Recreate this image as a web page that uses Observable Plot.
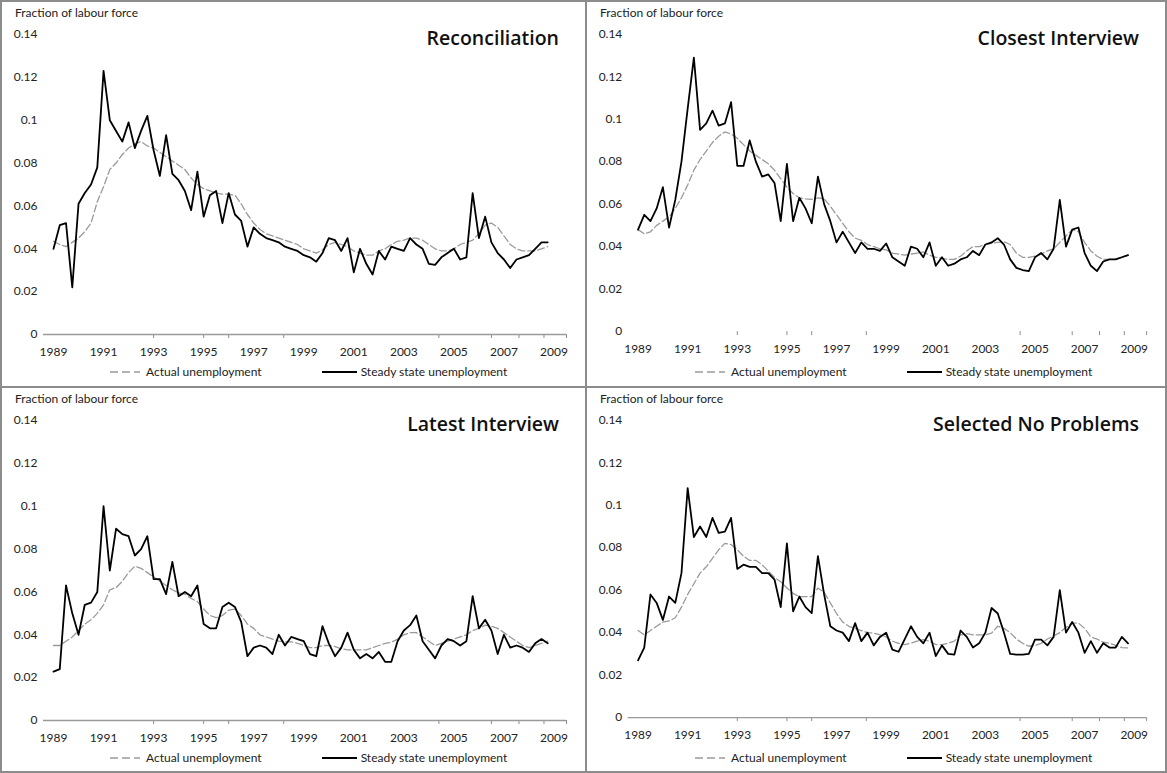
<!DOCTYPE html>
<html><head><meta charset="utf-8">
<script src="https://cdn.jsdelivr.net/npm/d3@7"></script>
<script src="https://cdn.jsdelivr.net/npm/@observablehq/plot@0.6"></script>
<style>
body{margin:0;background:#fff;}
#wrap{position:relative;width:1167px;height:773px;font-family:Lato,"Liberation Sans",sans-serif;color:#222;}
.panel{position:absolute;box-sizing:border-box;border:2px solid #8c8c8c;background:#fff;overflow:hidden}
.panel svg.plot{position:absolute;left:-2px;top:-2px}
.ylab{position:absolute;left:13px;top:3px;font-size:12px;color:#222;white-space:nowrap}
.title{position:absolute;right:26px;top:22px;font:600 19.5px "Open Sans",sans-serif;color:#111;white-space:nowrap}
.legend{position:absolute;left:108px;top:362px;display:flex;align-items:center;font-size:12px;color:#222;white-space:nowrap}
.legend svg{display:block}
</style></head><body><div id="wrap"></div><script>
// ---- data (quarterly, starting 1989 Q1) ----
const startYear = 1989;
const panelTitles = ["Reconciliation", "Closest Interview", "Latest Interview", "Selected No Problems"];
const yLabel = "Fraction of labour force";
const seriesNames = ["Actual unemployment", "Steady state unemployment"];
const yTicks = [0, 0.02, 0.04, 0.06, 0.08, 0.10, 0.12, 0.14];
const yearLabels = [1989, 1991, 1993, 1995, 1997, 1999, 2001, 2003, 2005, 2007, 2009];
const tickYears = [1993, 1995, 1996, 1998.2, 2004.4, 2006.5, 2007.6, 2008.6, 2009.5];

const reconActual = [.0435,.042,.041,.043,.045,.048,.052,.062,.069,.077,.080,.084,.087,.089,.090,.088,.087,.085,.083,.081,
 .079,.077,.073,.070,.068,.067,.066,.0655,.0655,.065,.061,.056,.052,.049,.047,.046,.045,.044,.043,.042,
 .040,.039,.038,.0395,.042,.043,.042,.041,.039,.038,.037,.037,.039,.040,.042,.0435,.044,.045,.045,.044,
 .042,.040,.039,.039,.040,.042,.043,.044,.047,.051,.052,.050,.046,.042,.040,.039,.039,.039,.040,.041];
const reconSteady = [.040,.051,.052,.022,.061,.066,.070,.078,.123,.100,.095,.090,.099,.087,.095,.102,.086,.074,.093,.075,
 .072,.067,.058,.076,.055,.065,.067,.052,.066,.056,.053,.041,.050,.047,.045,.044,.043,.041,.040,.039,
 .037,.036,.034,.038,.045,.044,.039,.045,.029,.040,.033,.028,.039,.035,.041,.040,.039,.045,.042,.040,
 .033,.0325,.036,.038,.040,.035,.036,.066,.045,.055,.043,.038,.035,.031,.035,.036,.037,.040,.043,.043];

const closestActual = [.048,.046,.047,.050,.052,.054,.058,.063,.069,.076,.081,.085,.089,.092,.094,.093,.091,.088,.085,.083,
 .081,.079,.076,.072,.068,.065,.063,.0625,.0623,.063,.0625,.059,.055,.051,.047,.044,.043,.041,.040,.039,
 .0385,.037,.0365,.036,.0365,.037,.0375,.036,.035,.0345,.034,.034,.0355,.038,.040,.040,.041,.0415,.042,.0423,
 .041,.037,.035,.035,.0355,.0365,.038,.039,.042,.045,.048,.047,.042,.038,.0355,.034,.034,.034,.035,.036];
const closestSteady = [.048,.055,.052,.058,.068,.049,.062,.080,.105,.129,.095,.098,.104,.097,.098,.108,.078,.078,.090,.080,
 .073,.074,.070,.052,.079,.052,.063,.058,.051,.073,.060,.052,.042,.047,.042,.037,.042,.039,.039,.038,
 .0415,.035,.033,.031,.040,.039,.035,.042,.031,.035,.031,.032,.034,.035,.038,.036,.041,.042,.044,.041,
 .034,.030,.029,.0285,.035,.037,.034,.039,.062,.040,.048,.049,.037,.031,.0285,.033,.034,.034,.035,.036];

const latestActual = [.035,.035,.037,.039,.042,.045,.047,.050,.054,.061,.062,.065,.069,.072,.071,.069,.067,.065,.063,.061,
 .0595,.059,.057,.0555,.052,.049,.048,.049,.0515,.052,.049,.045,.043,.040,.039,.038,.037,.0367,.0367,.036,
 .035,.034,.034,.035,.035,.0345,.0335,.033,.033,.033,.033,.034,.035,.036,.0365,.038,.040,.041,.041,.039,
 .037,.035,.036,.037,.038,.039,.040,.042,.043,.0445,.044,.043,.041,.039,.037,.035,.034,.035,.036,.037];
const latestSteady = [.0228,.024,.063,.050,.040,.054,.055,.060,.100,.070,.0895,.087,.086,.077,.080,.086,.066,.066,.059,.074,
 .058,.060,.058,.063,.045,.043,.043,.053,.055,.053,.046,.030,.034,.035,.034,.031,.040,.035,.039,.038,
 .037,.031,.030,.044,.036,.030,.034,.041,.033,.029,.031,.029,.032,.0274,.0274,.037,.042,.0445,.049,.037,
 .033,.029,.035,.038,.037,.035,.037,.058,.043,.047,.042,.031,.040,.034,.035,.034,.032,.036,.038,.036];

const selectedActual = [.041,.039,.041,.043,.045,.0455,.047,.052,.058,.063,.068,.071,.075,.079,.082,.0815,.079,.076,.074,.074,
 .072,.069,.066,.064,.061,.0585,.057,.057,.057,.061,.059,.054,.049,.045,.043,.042,.041,.040,.0398,.039,
 .038,.036,.035,.0344,.035,.036,.0367,.036,.0344,.0344,.035,.036,.039,.0395,.039,.039,.039,.0398,.043,.042,
 .040,.037,.035,.0336,.034,.035,.037,.0385,.040,.0425,.0445,.0445,.042,.038,.037,.0355,.035,.034,.033,.0328];
const selectedSteady = [.027,.033,.058,.054,.046,.057,.054,.068,.108,.085,.090,.085,.094,.087,.0875,.094,.070,.072,.071,.071,
 .068,.068,.065,.052,.082,.050,.057,.052,.0492,.076,.058,.043,.041,.040,.036,.0445,.036,.040,.034,.038,
 .040,.032,.031,.037,.043,.038,.035,.040,.029,.034,.030,.0297,.041,.038,.033,.035,.040,.0516,.049,.040,
 .030,.0297,.0297,.030,.0367,.0367,.034,.038,.060,.040,.045,.040,.0305,.036,.0305,.035,.033,.033,.038,.035];

const panelsData = [
  [reconActual, reconSteady, true],
  [closestActual, closestSteady, false],
  [latestActual, latestSteady, true],
  [selectedActual, selectedSteady, true]
];
const boxes = [
  {left:0, top:0, width:587, height:388},
  {left:585, top:0, width:582, height:388},
  {left:0, top:386, width:587, height:387},
  {left:585, top:386, width:582, height:387}
];

const fmtY = d => String(+d.toFixed(2));
const rows = arr => arr.map((v, i) => ({t: startYear + i / 4, v}));

function makePlot(actual, steady, axisLine) {
  return Plot.plot({
    width: 583, height: 362,
    marginLeft: 43, marginRight: 17, marginTop: 34, marginBottom: 28,
    style: {fontFamily: 'Lato, "Liberation Sans", sans-serif', fontSize: "12px", color: "#222", background: "transparent", overflow: "visible"},
    x: {domain: [1988.6, 2009.5], axis: null},
    y: {domain: [0, 0.14], axis: null},
    marks: [
      Plot.axisY(yTicks, {tickSize: 0, tickPadding: 6, tickFormat: fmtY, label: null}),
      Plot.axisX(yearLabels, {tickSize: 0, tickPadding: 13, tickFormat: d => String(d), label: null}),
      Plot.axisX(tickYears, {tickSize: 4, tickFormat: () => "", label: null, stroke: "#8c8c8c"}),
      axisLine ? Plot.ruleY([0], {stroke: "#9a9a9a", strokeWidth: 1.5}) : null,
      Plot.line(rows(actual), {x: "t", y: "v", stroke: "#9a9a9a", strokeWidth: 1.3, strokeDasharray: "7,3"}),
      Plot.line(rows(steady), {x: "t", y: "v", stroke: "#000", strokeWidth: 1.8})
    ]
  });
}

function legendSample(dashed) {
  const w = dashed ? 30 : 35;
  const s = d3.create("svg").attr("width", w).attr("height", 8);
  s.append("line").attr("x1", 0).attr("x2", w).attr("y1", 4).attr("y2", 4)
    .attr("stroke", dashed ? "#9a9a9a" : "#000").attr("stroke-width", dashed ? 1.5 : 2)
    .attr("stroke-dasharray", dashed ? "8,4" : null);
  return s.node();
}

const wrap = document.getElementById("wrap");
panelsData.forEach(([a, s, line], k) => {
  const b = boxes[k];
  const p = document.createElement("div");
  p.className = "panel";
  Object.assign(p.style, {left: b.left + "px", top: b.top + "px", width: b.width + "px", height: b.height + "px"});
  const svg = makePlot(a, s, line);
  svg.classList.add("plot");
  p.appendChild(svg);
  const yl = document.createElement("div"); yl.className = "ylab"; yl.textContent = yLabel; p.appendChild(yl);
  const t = document.createElement("div"); t.className = "title"; t.textContent = panelTitles[k]; p.appendChild(t);
  const lg = document.createElement("div"); lg.className = "legend";
  const s1 = legendSample(true); s1.style.marginRight = "6px"; lg.appendChild(s1);
  const t1 = document.createElement("span"); t1.textContent = seriesNames[0]; lg.appendChild(t1);
  const s2 = legendSample(false); s2.style.marginLeft = "60px"; s2.style.marginRight = "4px"; lg.appendChild(s2);
  const t2 = document.createElement("span"); t2.textContent = seriesNames[1]; lg.appendChild(t2);
  p.appendChild(lg);
  wrap.appendChild(p);
});
</script></body></html>
